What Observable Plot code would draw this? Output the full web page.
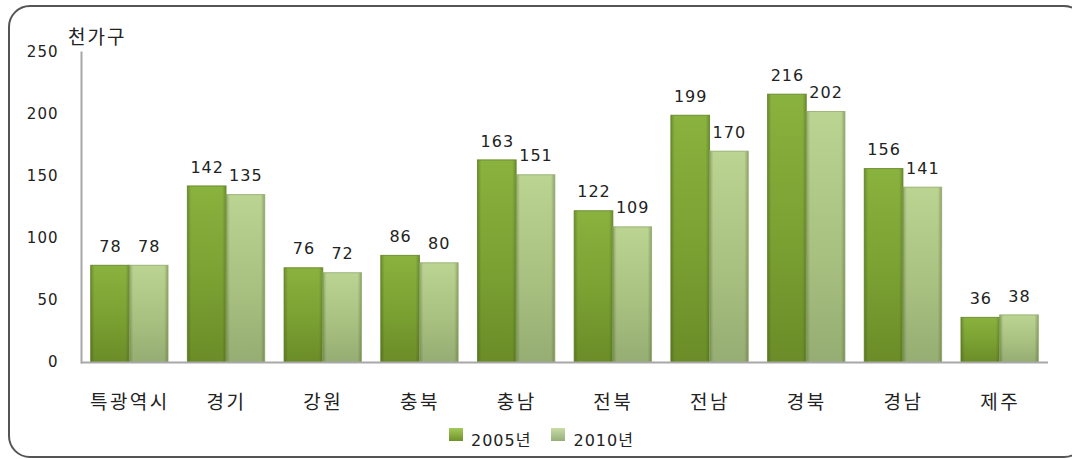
<!DOCTYPE html>
<html>
<head>
<meta charset="utf-8">
<script src="https://cdn.jsdelivr.net/npm/d3@7"></script>
<script src="https://cdn.jsdelivr.net/npm/@observablehq/plot@0.6"></script>
<style>
  body { margin: 0; background: #fff; }
  #wrap { position: relative; width: 1072px; height: 459px; overflow: hidden; background: #fff;
          font-family: "DejaVu Sans", "Noto Sans CJK KR", sans-serif; color: #222; }
  #border { position: absolute; left: 8px; top: 5px; width: 1078px; height: 453px;
            border: 2px solid #555; border-radius: 22px; box-sizing: border-box; }
  #chart { position: absolute; left: 0; top: 0; }
  #chart svg text { letter-spacing: 1px; }
  #chart svg g[aria-label="x-axis tick label"] text { letter-spacing: 2.5px; }
  #unit { position: absolute; left: 68px; top: 25px; font-size: 19px; letter-spacing: 2px;
          font-family: "Noto Sans CJK KR", sans-serif; color: #222; line-height: 22px; }
  #legend { position: absolute; left: 449px; top: 426px; display: flex; align-items: flex-start;
            font-size: 16px; letter-spacing: 1px; color: #222; }
  .item { display: flex; align-items: flex-start; margin-right: 20px; }
  .sw { width: 14px; height: 13px; margin-top: 2px; margin-right: 8px; box-sizing: border-box; }
  .lab { line-height: 20px; margin-top: 5px; }
</style>
</head>
<body>
<div id="wrap">
  <div id="border"></div>
  <div id="chart"></div>
  <div id="unit"></div>
  <div id="legend"></div>
</div>
<script>
const categories = ["특광역시", "경기", "강원", "충북", "충남", "전북", "전남", "경북", "경남", "제주"];
const seriesNames = ["2005년", "2010년"];
const values2005 = [78, 142, 76, 86, 163, 122, 199, 216, 156, 36];
const values2010 = [78, 135, 72, 80, 151, 109, 170, 202, 141, 38];
const yTicks = [0, 50, 100, 150, 200, 250];
const unitLabel = "천가구";

const rows2005 = categories.map((c, i) => ({cat: c, series: seriesNames[0], value: values2005[i]}));
const rows2010 = categories.map((c, i) => ({cat: c, series: seriesNames[1], value: values2010[i]}));

// layout
const W = 1072, H = 420, mL = 81, mR = 24, mT = 52, mB = 58;
const padIn = 0.2, padOut = 0.1;
const step = (W - mL - mR) / (categories.length - padIn + 2 * padOut);
const half = step * (1 - padIn) / 2;   // width of one bar inside a group

const left = {x: "cat", y: "value", insetRight: half};
const right = {x: "cat", y: "value", insetLeft: half};

const plot = Plot.plot({
  width: W,
  height: H,
  marginLeft: mL,
  marginRight: mR,
  marginTop: mT,
  marginBottom: mB,
  x: {domain: categories, paddingInner: padIn, paddingOuter: padOut, round: false, label: null},
  y: {domain: [0, 250], label: null},
  style: {fontFamily: "'DejaVu Sans', 'Noto Sans CJK KR', sans-serif", color: "#222", background: "transparent", overflow: "visible"},
  marks: [
    Plot.barY(rows2005, {...left, fill: "url(#g2005)"}),
    Plot.barY(rows2010, {...right, fill: "url(#g2010)"}),
    Plot.barY(rows2005, {...left, fill: "url(#edge)"}),
    Plot.barY(rows2010, {...right, fill: "url(#edge)"}),
    Plot.barY(rows2005, {...left, fill: "none", stroke: "#5f7f22", strokeWidth: 1, strokeOpacity: 0.8}),
    Plot.barY(rows2010, {...right, fill: "none", stroke: "#8ea768", strokeWidth: 1, strokeOpacity: 0.8}),
    Plot.tickY(rows2005, {x: "cat", y: "value", insetLeft: 1, insetRight: half + 1, stroke: "url(#b2005)", strokeWidth: 7, dy: 4}),
    Plot.tickY(rows2010, {x: "cat", y: "value", insetLeft: half + 1, insetRight: 1, stroke: "url(#b2010)", strokeWidth: 7, dy: 4}),
    Plot.text(rows2005, {x: "cat", y: "value", text: "value", dx: -half / 2, dy: -19, fontSize: 16, fill: "#222"}),
    Plot.text(rows2010, {x: "cat", y: "value", text: "value", dx: half / 2, dy: -19, fontSize: 16, fill: "#222"}),
    Plot.axisY({ticks: yTicks, tickSize: 0, tickPadding: 23, fontSize: 15, label: null, fill: "#222"}),
    Plot.axisX({anchor: "bottom", tickSize: 0, tickPadding: 33, fontSize: 19, label: null, fontFamily: "'Noto Sans CJK KR', sans-serif", fill: "#222"}),
    Plot.ruleY([0], {stroke: "#a8a8a8", strokeWidth: 2}),
    Plot.frame({anchor: "left", stroke: "#a8a8a8", strokeWidth: 2})
  ]
});

const svg = d3.select(plot.tagName === "svg" ? plot : plot.querySelector("svg"));
const defs = svg.insert("defs", ":first-child");
function vgrad(id, stops) {
  const g = defs.append("linearGradient").attr("id", id).attr("x1", 0).attr("y1", 0).attr("x2", 0).attr("y2", 1);
  stops.forEach(([o, c, a]) => g.append("stop").attr("offset", o).attr("stop-color", c).attr("stop-opacity", a ?? 1));
}
function hgrad(id, stops) {
  const g = defs.append("linearGradient").attr("id", id).attr("x1", 0).attr("y1", 0).attr("x2", 1).attr("y2", 0);
  stops.forEach(([o, c, a]) => g.append("stop").attr("offset", o).attr("stop-color", c).attr("stop-opacity", a ?? 1));
}
vgrad("g2005", [[0, "#8ab23e"], [0.5, "#7ca233"], [1, "#6b8c28"]]);
vgrad("g2010", [[0, "#bbd492"], [0.5, "#abc382"], [1, "#96ad73"]]);
hgrad("edge", [[0, "#2a3a10", 0.3], [0.1, "#2a3a10", 0.0], [0.9, "#2a3a10", 0.0], [1, "#2a3a10", 0.3]]);
hgrad("b2005", [[0, "#8fb447"], [0.15, "#aacf62"], [0.85, "#aacf62"], [1, "#8fb447"]]);
hgrad("b2010", [[0, "#bcd596"], [0.15, "#dcecbf"], [0.85, "#dcecbf"], [1, "#bcd596"]]);

document.getElementById("chart").appendChild(plot);
document.getElementById("unit").textContent = unitLabel;

const legend = document.getElementById("legend");
const swatchBg = ["linear-gradient(#a4c95a, #6e9228)", "linear-gradient(#c8dca6, #98ad78)"];
seriesNames.forEach((s, i) => {
  const item = document.createElement("div"); item.className = "item";
  const sw = document.createElement("div"); sw.className = "sw"; sw.style.background = swatchBg[i];
  const lab = document.createElement("div"); lab.className = "lab"; lab.textContent = s;
  item.appendChild(sw); item.appendChild(lab); legend.appendChild(item);
});
</script>
</body>
</html>
